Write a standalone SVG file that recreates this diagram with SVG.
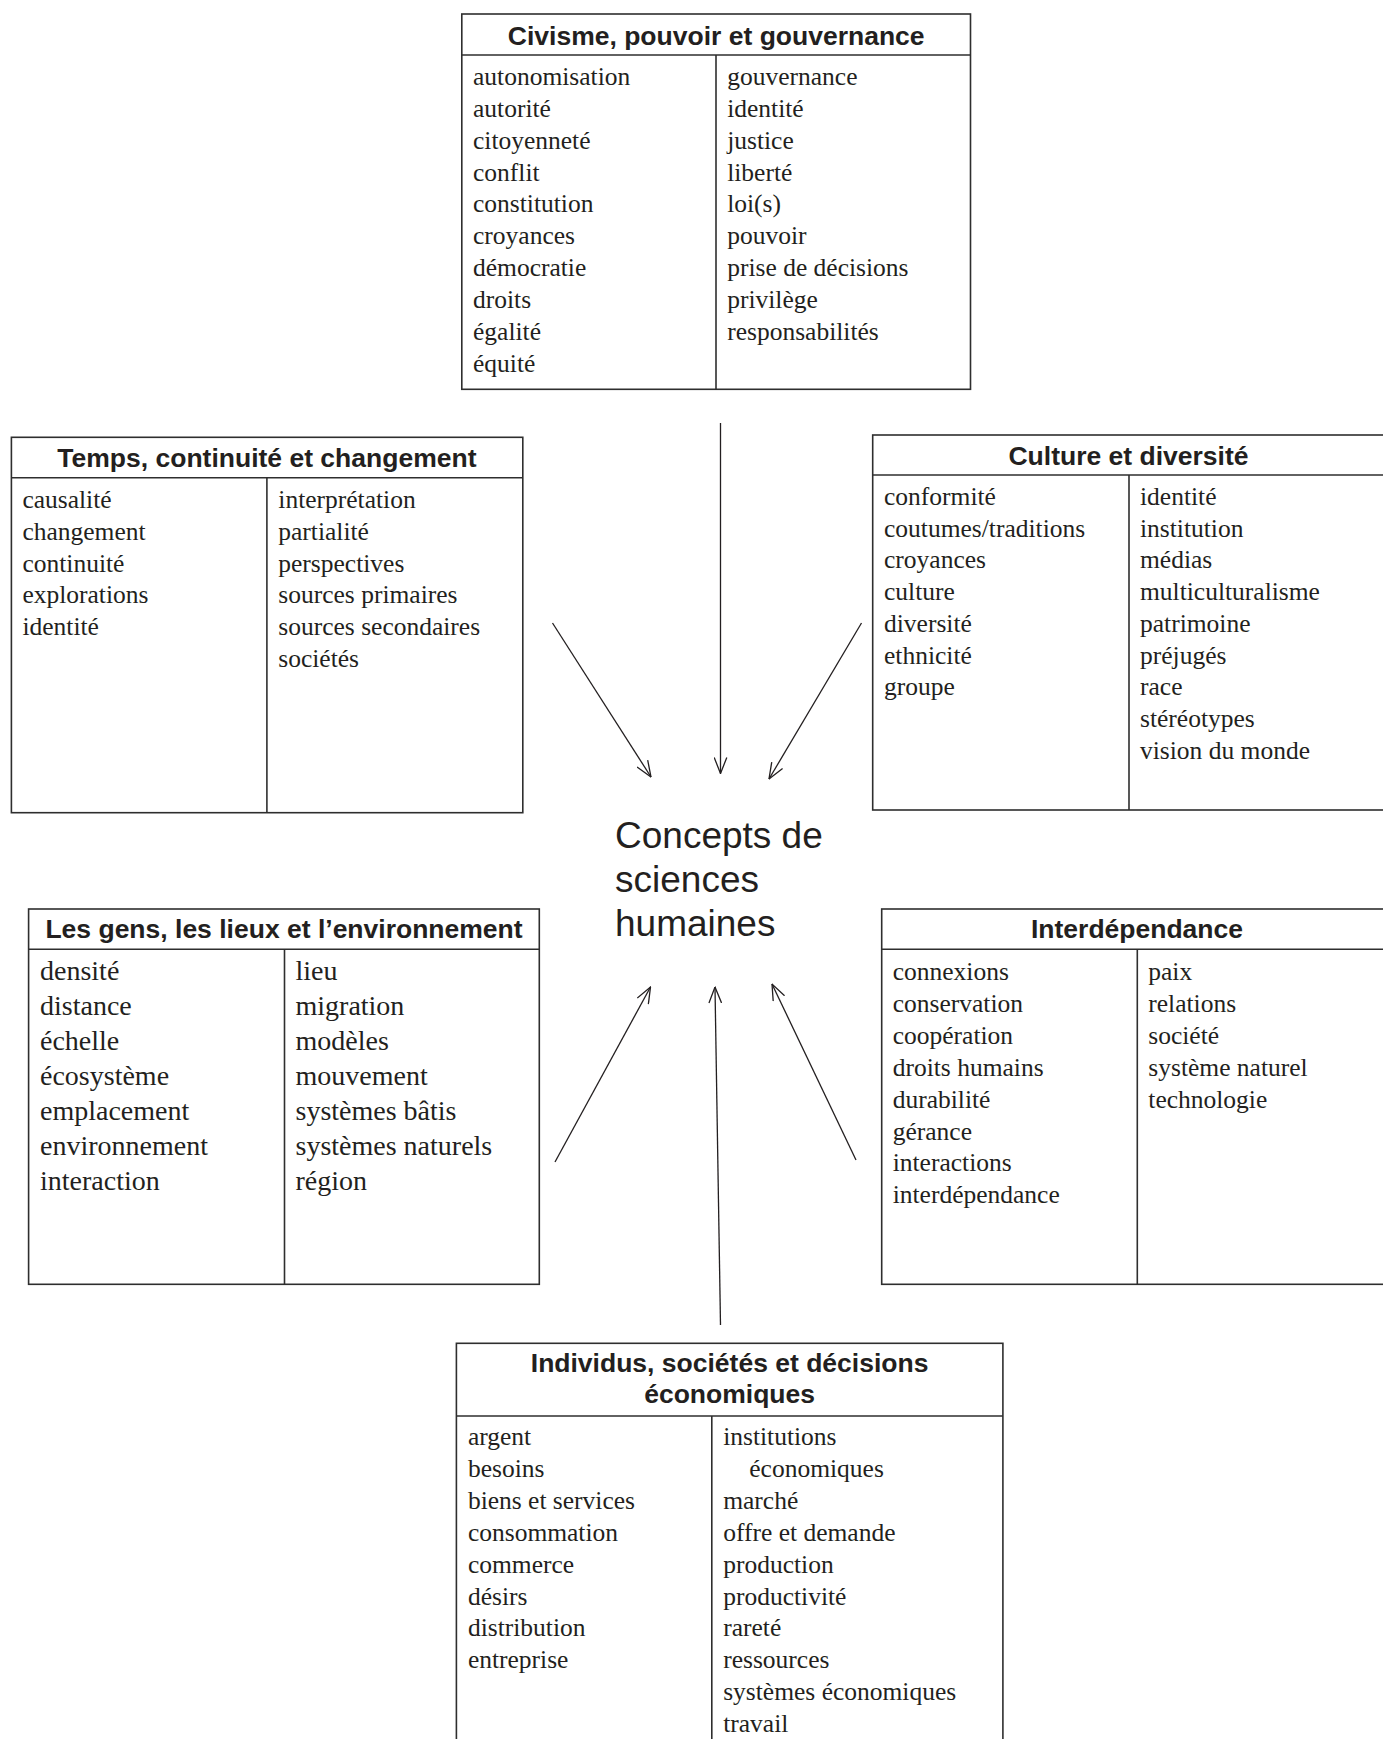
<svg xmlns="http://www.w3.org/2000/svg" width="1383" height="1739" viewBox="0 0 1383 1739">
<style>
.box{fill:#fff;stroke:#2e2e2e;stroke-width:1.6}
.ln{stroke:#2e2e2e;stroke-width:1.6;fill:none}
.hd{font-family:"Liberation Sans",Arial,sans-serif;font-weight:bold;font-size:26.5px;text-anchor:middle;fill:#231f20}
.it{font-family:"Liberation Serif","Times New Roman",serif;font-size:25.5px;fill:#231f20}
.big{font-size:28px}
.ctr{font-family:"Liberation Sans",Arial,sans-serif;font-size:37px;fill:#231f20}
.ar{stroke:#231f20;stroke-width:1.3;fill:none;marker-end:url(#ah)}
</style>
<defs>
<marker id="ah" markerUnits="userSpaceOnUse" viewBox="0 0 17 14" refX="16.5" refY="7" markerWidth="17" markerHeight="14" orient="auto">
<path d="M0.5,0.7 L16.5,7 L0.5,13.3" fill="none" stroke="#231f20" stroke-width="1.3"/>
</marker>
</defs>
<rect width="1383" height="1739" fill="#fff"/>

<g id="civisme">
<rect class="box" x="461.8" y="14" width="508.7" height="375.3"/>
<line class="ln" x1="461.8" y1="55" x2="970.5" y2="55"/>
<line class="ln" x1="716" y1="55" x2="716" y2="389.3"/>
<text class="hd" x="716.2" y="45">Civisme, pouvoir et gouvernance</text>
<text class="it">
<tspan x="473" y="85">autonomisation</tspan>
<tspan x="473" y="116.9">autorité</tspan>
<tspan x="473" y="148.7">citoyenneté</tspan>
<tspan x="473" y="180.6">conflit</tspan>
<tspan x="473" y="212.4">constitution</tspan>
<tspan x="473" y="244.3">croyances</tspan>
<tspan x="473" y="276.1">démocratie</tspan>
<tspan x="473" y="308">droits</tspan>
<tspan x="473" y="339.8">égalité</tspan>
<tspan x="473" y="371.7">équité</tspan>
</text>
<text class="it">
<tspan x="727.2" y="85">gouvernance</tspan>
<tspan x="727.2" y="116.9">identité</tspan>
<tspan x="727.2" y="148.7">justice</tspan>
<tspan x="727.2" y="180.6">liberté</tspan>
<tspan x="727.2" y="212.4">loi(s)</tspan>
<tspan x="727.2" y="244.3">pouvoir</tspan>
<tspan x="727.2" y="276.1">prise de décisions</tspan>
<tspan x="727.2" y="308">privilège</tspan>
<tspan x="727.2" y="339.8">responsabilités</tspan>
</text>
</g>

<g id="temps">
<rect class="box" x="11.4" y="437.3" width="511.4" height="375.4"/>
<line class="ln" x1="11.4" y1="477.7" x2="522.8" y2="477.7"/>
<line class="ln" x1="266.9" y1="477.7" x2="266.9" y2="812.7"/>
<text class="hd" x="266.9" y="466.7">Temps, continuité et changement</text>
<text class="it">
<tspan x="22.4" y="508.3">causalité</tspan>
<tspan x="22.4" y="540">changement</tspan>
<tspan x="22.4" y="571.7">continuité</tspan>
<tspan x="22.4" y="603.4">explorations</tspan>
<tspan x="22.4" y="635.1">identité</tspan>
</text>
<text class="it">
<tspan x="278.3" y="508.3">interprétation</tspan>
<tspan x="278.3" y="540">partialité</tspan>
<tspan x="278.3" y="571.7">perspectives</tspan>
<tspan x="278.3" y="603.4">sources primaires</tspan>
<tspan x="278.3" y="635.1">sources secondaires</tspan>
<tspan x="278.3" y="666.8">sociétés</tspan>
</text>
</g>

<g id="culture">
<rect class="box" x="872.7" y="435" width="520" height="375"/>
<line class="ln" x1="872.7" y1="475" x2="1392.7" y2="475"/>
<line class="ln" x1="1129" y1="475" x2="1129" y2="810"/>
<text class="hd" x="1128.5" y="465">Culture et diversité</text>
<text class="it">
<tspan x="884" y="505">conformité</tspan>
<tspan x="884" y="536.7">coutumes/traditions</tspan>
<tspan x="884" y="568.4">croyances</tspan>
<tspan x="884" y="600.1">culture</tspan>
<tspan x="884" y="631.8">diversité</tspan>
<tspan x="884" y="663.5">ethnicité</tspan>
<tspan x="884" y="695.2">groupe</tspan>
</text>
<text class="it">
<tspan x="1140" y="505">identité</tspan>
<tspan x="1140" y="536.7">institution</tspan>
<tspan x="1140" y="568.4">médias</tspan>
<tspan x="1140" y="600.1">multiculturalisme</tspan>
<tspan x="1140" y="631.8">patrimoine</tspan>
<tspan x="1140" y="663.5">préjugés</tspan>
<tspan x="1140" y="695.2">race</tspan>
<tspan x="1140" y="726.9">stéréotypes</tspan>
<tspan x="1140" y="758.6">vision du monde</tspan>
</text>
</g>

<g id="gens">
<rect class="box" x="28.6" y="909" width="510.7" height="375.3"/>
<line class="ln" x1="28.6" y1="949.3" x2="539.3" y2="949.3"/>
<line class="ln" x1="284.5" y1="949.3" x2="284.5" y2="1284.3"/>
<text class="hd" x="284" y="938.3">Les gens, les lieux et l’environnement</text>
<text class="it big">
<tspan x="40" y="980">densité</tspan>
<tspan x="40" y="1015">distance</tspan>
<tspan x="40" y="1050">échelle</tspan>
<tspan x="40" y="1085">écosystème</tspan>
<tspan x="40" y="1120">emplacement</tspan>
<tspan x="40" y="1155">environnement</tspan>
<tspan x="40" y="1190">interaction</tspan>
</text>
<text class="it big">
<tspan x="295.5" y="980">lieu</tspan>
<tspan x="295.5" y="1015">migration</tspan>
<tspan x="295.5" y="1050">modèles</tspan>
<tspan x="295.5" y="1085">mouvement</tspan>
<tspan x="295.5" y="1120">systèmes bâtis</tspan>
<tspan x="295.5" y="1155">systèmes naturels</tspan>
<tspan x="295.5" y="1190">région</tspan>
</text>
</g>

<g id="interdependance">
<rect class="box" x="881.7" y="909" width="511" height="375.3"/>
<line class="ln" x1="881.7" y1="949.3" x2="1392.7" y2="949.3"/>
<line class="ln" x1="1137.3" y1="949.3" x2="1137.3" y2="1284.3"/>
<text class="hd" x="1137" y="938.3">Interdépendance</text>
<text class="it">
<tspan x="892.7" y="980">connexions</tspan>
<tspan x="892.7" y="1011.9">conservation</tspan>
<tspan x="892.7" y="1043.8">coopération</tspan>
<tspan x="892.7" y="1075.7">droits humains</tspan>
<tspan x="892.7" y="1107.6">durabilité</tspan>
<tspan x="892.7" y="1139.5">gérance</tspan>
<tspan x="892.7" y="1171.4">interactions</tspan>
<tspan x="892.7" y="1203.3">interdépendance</tspan>
</text>
<text class="it">
<tspan x="1148.3" y="980">paix</tspan>
<tspan x="1148.3" y="1011.9">relations</tspan>
<tspan x="1148.3" y="1043.8">société</tspan>
<tspan x="1148.3" y="1075.7">système naturel</tspan>
<tspan x="1148.3" y="1107.6">technologie</tspan>
</text>
</g>

<g id="individus">
<rect class="box" x="456.4" y="1343.3" width="546.5" height="410"/>
<line class="ln" x1="456.4" y1="1416" x2="1002.9" y2="1416"/>
<line class="ln" x1="711.8" y1="1416" x2="711.8" y2="1753"/>
<text class="hd"><tspan x="729.6" y="1371.7">Individus, sociétés et décisions</tspan><tspan x="729.6" y="1402.7">économiques</tspan></text>
<text class="it">
<tspan x="467.9" y="1445">argent</tspan>
<tspan x="467.9" y="1476.9">besoins</tspan>
<tspan x="467.9" y="1508.8">biens et services</tspan>
<tspan x="467.9" y="1540.7">consommation</tspan>
<tspan x="467.9" y="1572.6">commerce</tspan>
<tspan x="467.9" y="1604.5">désirs</tspan>
<tspan x="467.9" y="1636.4">distribution</tspan>
<tspan x="467.9" y="1668.3">entreprise</tspan>
</text>
<text class="it">
<tspan x="723.2" y="1445">institutions</tspan>
<tspan x="749.3" y="1476.9">économiques</tspan>
<tspan x="723.2" y="1508.8">marché</tspan>
<tspan x="723.2" y="1540.7">offre et demande</tspan>
<tspan x="723.2" y="1572.6">production</tspan>
<tspan x="723.2" y="1604.5">productivité</tspan>
<tspan x="723.2" y="1636.4">rareté</tspan>
<tspan x="723.2" y="1668.3">ressources</tspan>
<tspan x="723.2" y="1700.2">systèmes économiques</tspan>
<tspan x="723.2" y="1732.1">travail</tspan>
</text>
</g>

<g id="centre">
<text class="ctr"><tspan x="615" y="848.3">Concepts de</tspan><tspan x="615" y="892.3">sciences</tspan><tspan x="615" y="936.3">humaines</tspan></text>
</g>

<g id="connectors">
<line class="ar" x1="720.5" y1="423" x2="720.5" y2="773.5"/>
<line class="ar" x1="552.5" y1="623" x2="651" y2="777"/>
<line class="ar" x1="861.5" y1="623" x2="769" y2="779"/>
<line class="ar" x1="555" y1="1162" x2="650.5" y2="987"/>
<line class="ar" x1="720.5" y1="1325" x2="715" y2="987"/>
<line class="ar" x1="856" y1="1160" x2="772" y2="984"/>
</g>
</svg>
